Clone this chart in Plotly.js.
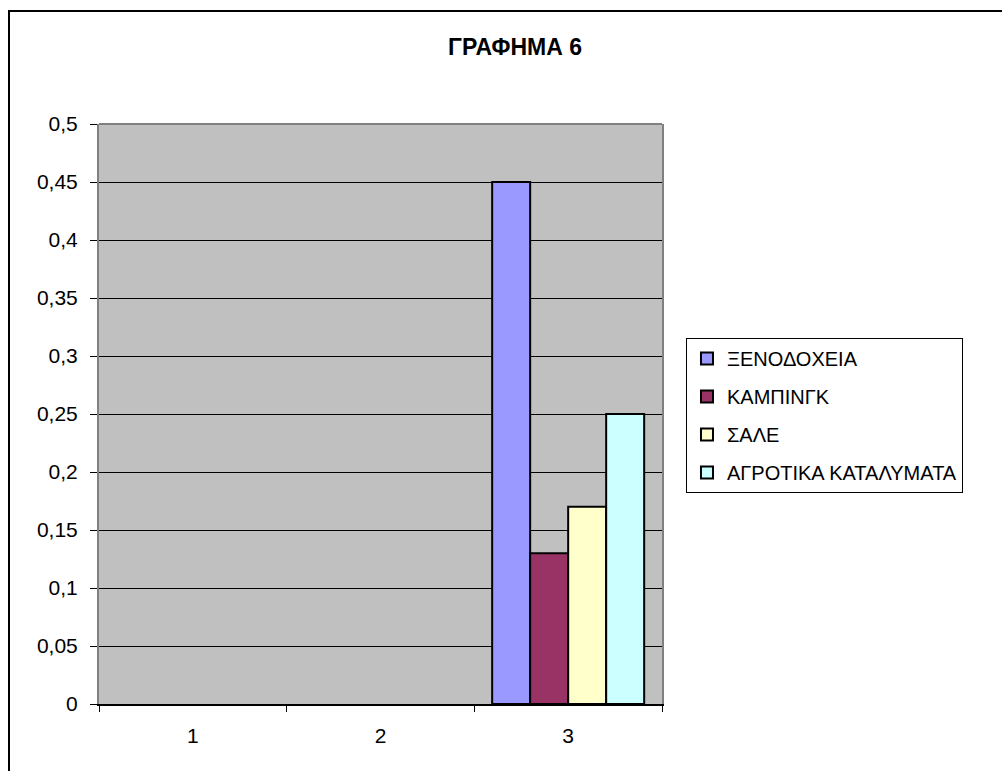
<!DOCTYPE html>
<html>
<head>
<meta charset="utf-8">
<script src="https://cdn.plot.ly/plotly-3.0.1.min.js"></script>
<style>
  html, body { margin: 0; padding: 0; background: #ffffff; overflow: hidden; }
  #chart { width: 1002px; height: 771px; }
  #frame { position: absolute; left: 8px; top: 10px; width: 1100px; height: 900px;
           border: 2px solid #000; pointer-events: none; box-sizing: border-box; }
</style>
</head>
<body>
<div id="chart"></div>
<div id="frame"></div>
<script>
// ---- data ----
const categories = ["1", "2", "3"];
const seriesNames = ["ΞΕΝΟΔΟΧΕΙΑ", "ΚΑΜΠΙΝΓΚ", "ΣΑΛΕ", "ΑΓΡΟΤΙΚΑ ΚΑΤΑΛΥΜΑΤΑ"];
const xenodocheia = [null, null, 0.45];
const kamping = [null, null, 0.13];
const sale = [null, null, 0.17];
const agrotika = [null, null, 0.25];
const yTickValues = [0, 0.05, 0.1, 0.15, 0.2, 0.25, 0.3, 0.35, 0.4, 0.45, 0.5];
const titleText = "ΓΡΑΦΗΜΑ 6";

const seriesValues = [xenodocheia, kamping, sale, agrotika];
const colors = ["#9999FF", "#993366", "#FFFFCC", "#CCFFFF"];

const fontFam = "Liberation Sans, Arial, sans-serif";

const traces = seriesValues.map((vals, i) => ({
  type: "bar",
  name: seriesNames[i],
  x: categories,
  y: vals,
  legendgroup: "g" + i,
  marker: { color: colors[i], line: { color: "#000000", width: 2 } },
  hoverinfo: "name+y"
}));

const layout = {
  width: 1002,
  height: 771,
  margin: { l: 99, r: 340, t: 124, b: 67, pad: 0 },
  paper_bgcolor: "#ffffff",
  plot_bgcolor: "#C0C0C0",
  separators: ", ",
  font: { family: fontFam, color: "#000000", size: 21 },
  title: {
    text: titleText,
    font: { family: fontFam, size: 23, color: "#000000", weight: "bold" },
    xref: "container", x: 0.514, xanchor: "center",
    yref: "container", y: 0.939, yanchor: "middle"
  },
  barmode: "group",
  bargap: 0.19,
  bargroupgap: 0,
  xaxis: {
    type: "category",
    categoryorder: "array",
    categoryarray: categories,
    range: [-0.5, 2.5],
    showline: true, linecolor: "#000000", linewidth: 1.5,
    ticks: "outside", tickson: "boundaries", ticklen: 6, tickcolor: "#000000", tickwidth: 1,
    showgrid: false, zeroline: false,
    tickfont: { family: fontFam, size: 21, color: "#000000" },
    ticklabelstandoff: 12,
    fixedrange: true
  },
  yaxis: {
    range: [0, 0.5],
    tickvals: yTickValues,
    showline: true, linecolor: "#808080", linewidth: 2, mirror: true,
    ticks: "outside", ticklen: 7, tickcolor: "#000000", tickwidth: 1,
    showgrid: true, gridcolor: "#000000", gridwidth: 1,
    zeroline: false,
    tickfont: { family: fontFam, size: 21, color: "#000000" },
    ticklabelstandoff: 8,
    fixedrange: true
  },
  shapes: [
    { type: "line", xref: "paper", yref: "paper", x0: 0, x1: 1, y0: 1, y1: 1,
      line: { color: "#808080", width: 2 }, layer: "above" }
  ],
  legend: {
    x: 1.0426, xanchor: "left",
    y: 0.631, yanchor: "top",
    bgcolor: "#ffffff",
    bordercolor: "#000000", borderwidth: 1,
    traceorder: "grouped",
    tracegroupgap: 9,
    font: { family: fontFam, size: 20, color: "#000000" }
  },
  showlegend: true
};

Plotly.newPlot("chart", traces, layout, { displayModeBar: false, staticPlot: true });
</script>
</body>
</html>
